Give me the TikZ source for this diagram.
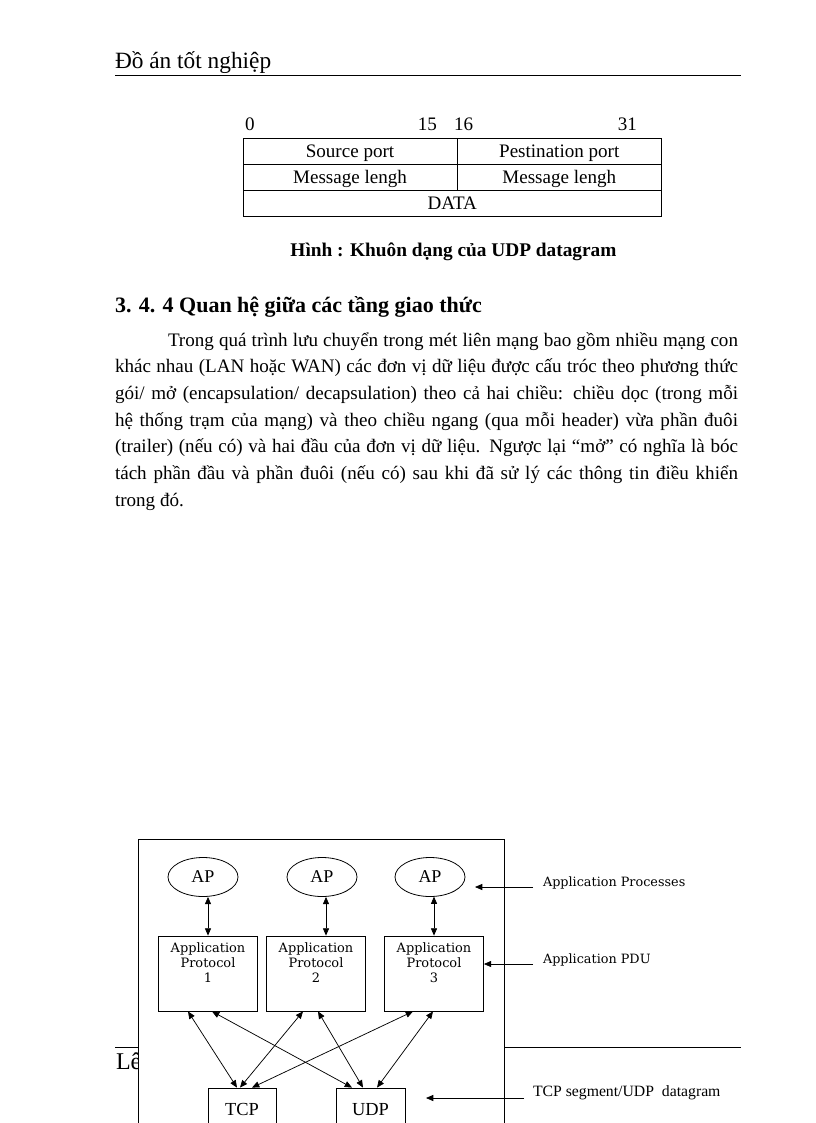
\documentclass[tikz,border=0pt]{standalone}
\usepackage{fontspec}
\setmainfont{Liberation Serif}
\newfontfamily\dvserif{DejaVu Serif}
\usetikzlibrary{arrows.meta,shapes.geometric,calc}
\begin{document}
\begin{tikzpicture}[x=0.75pt,y=-0.75pt,
  txt/.style={inner sep=0pt, outer sep=0pt},
  body/.style={txt, anchor=base west, font=\fontsize{14.3}{17}\selectfont},
  cell/.style={draw, line width=0.65pt, inner sep=0pt, outer sep=0pt, minimum height=19.5pt,
    text height=9.5pt, text depth=0pt, font=\fontsize{14.3}{17}\selectfont},
  frame/.style={draw, fill=white, line width=0.7pt, inner sep=0pt, minimum width=274.5pt, minimum height=218.25pt},
  apell/.style={ellipse, draw, line width=0.6pt, inner sep=0pt, minimum width=52.5pt, minimum height=29.25pt,
    font=\fontsize{13.5}{16}\selectfont},
  pbox/.style={draw, line width=0.6pt, inner sep=0pt, minimum width=74.25pt, minimum height=56.25pt},
  ptext/.style={txt, anchor=north, align=center, font=\dvserif\fontsize{9.7}{11.25}\selectfont},
  tbox/.style={draw, line width=0.6pt, inner sep=0pt, minimum height=31.5pt, text height=9pt, text depth=0pt,
    font=\fontsize{13.8}{16}\selectfont},
  lbl/.style={txt, anchor=base west, font=\dvserif\fontsize{9.6}{11.25}\selectfont},
  tlbl/.style={txt, anchor=base west, font=\fontsize{11.8}{14}\selectfont},
  tipa/.tip={Triangle[length=5.5pt,width=4.6pt]},
  dbl/.style={line width=0.55pt, tipa-tipa},
  larr/.style={line width=0.55pt, -tipa},
  rule/.style={line width=0.8pt}
]
\useasboundingbox (0,0) rectangle (816,1123);
\clip (0,0) rectangle (816,1123);

% header
\node[txt, anchor=base west, font=\fontsize{17.5}{21}\selectfont] (hdr) at (115,69) {Đồ án tốt nghiệp};
\coordinate (hl) at (115,75.5);
\coordinate (hr) at (741,75.5);
\draw[rule] (hl) -- (hr);

% UDP table
\node[body] (n0) at (245,130.7) {0};
\node[body, anchor=base east] (n15) at (437,130.7) {15};
\node[body] (n16) at (454,130.7) {16};
\node[body, anchor=base east] (n31) at (637,130.7) {31};
\node[cell, minimum width=160.5pt] (src) at (350,151.5) {Source port};
\node[cell, minimum width=153.4pt] (dst) at (559.25,151.5) {Pestination port};
\node[cell, minimum width=160.5pt] (ml1) at (350,177.5) {Message lengh};
\node[cell, minimum width=153.4pt] (ml2) at (559.25,177.5) {Message lengh};
\node[cell, minimum width=313.9pt] (data) at (452.25,203.5) {DATA};

\node[txt, anchor=base, font=\bfseries\fontsize{14.5}{17}\selectfont] (cap) at (453.5,256) {Hình : Khuôn dạng của UDP datagram};

\node[txt, anchor=base west, font=\bfseries\fontsize{16.5}{19}\selectfont] (sec) at (115,312) {3. 4. 4 Quan hệ giữa các tầng giao thức};

% paragraph
\node[body] (l1) at (168,346) {\makebox[427.5pt][s]{Trong quá trình lưu chuyển trong mét liên mạng bao gồm nhiều mạng con}};
\node[body] (l2) at (115,372.7) {\makebox[467.25pt][s]{khác nhau (LAN hoặc WAN) các đơn vị dữ liệu được cấu tróc theo phương thức}};
\node[body] (l3) at (115,399.3) {\makebox[467.25pt][s]{gói/ mở (encapsulation/ decapsulation) theo cả hai chiều: chiều dọc (trong mỗi}};
\node[body] (l4) at (115,426) {\makebox[467.25pt][s]{hệ thống trạm của mạng) và theo chiều ngang (qua mỗi header) vừa phần đuôi}};
\node[body] (l5) at (115,452.7) {\makebox[467.25pt][s]{(trailer) (nếu có) và hai đầu của đơn vị dữ liệu. Ngược lại “mở” có nghĩa là bóc}};
\node[body] (l6) at (115,479.3) {\makebox[467.25pt][s]{tách phần đầu và phần đuôi (nếu có) sau khi đã sử lý các thông tin điều khiển}};
\node[body] (l7) at (115,506) {trong đó.};

% footer (partly covered)
\node[txt, anchor=base west, font=\fontsize{18}{21}\selectfont] (ftr) at (116,1069) {Lê};
\coordinate (fl) at (115,1047);
\coordinate (fr) at (741,1047);
\draw[line width=0.7pt] (fl) -- (fr);

% diagram
\node[frame] (frame) at (321,984.5) {};

\node[apell] (ap1) at (203,877) {AP};
\node[apell] (ap2) at (322,877) {AP};
\node[apell] (ap3) at (430,877) {AP};

\node[pbox] (p1) at (208,973.5) {};
\node[pbox] (p2) at (316,973.5) {};
\node[pbox] (p3) at (434,973.5) {};
\node[ptext] (t1) at ($(p1.north)+(0,7.5)$) {Application\\Protocol\\1};
\node[ptext] (t2) at ($(p2.north)+(0,7.5)$) {Application\\Protocol\\2};
\node[ptext] (t3) at ($(p3.north)+(0,7.5)$) {Application\\Protocol\\3};

\draw[dbl] ($(ap1.south)+(5,0)$) -- (p1.north);
\draw[dbl] ($(ap2.south)+(4,0)$) -- ($(p2.north)+(10,0)$);
\draw[dbl] ($(ap3.south)+(4,-0.3)$) -- (p3.north);

\node[tbox, minimum width=51pt] (tcp) at (242,1109) {TCP};
\node[tbox, minimum width=51.75pt] (udp) at (370.5,1109) {UDP};

\draw[dbl] ($(p1.south)+(-20,0)$) -- ($(tcp.north)+(-5,0)$);
\draw[dbl] ($(p1.south)+(4,0)$) -- ($(udp.north)+(-18.5,0)$);
\draw[dbl] ($(p2.south)+(-13,0)$) -- ($(tcp.north)+(-2,0)$);
\draw[dbl] ($(p2.south)+(2,0)$) -- ($(udp.north)+(-7.5,0)$);
\draw[dbl] ($(p3.south)+(-21,0)$) -- ($(tcp.north)+(10,0)$);
\draw[dbl] ($(p3.south)+(-1,0)$) -- ($(udp.north)+(6.5,0)$);

% side labels
\node[lbl] (lapp) at (543,886.5) {Application Processes};
\node[lbl] (lpdu) at (543,963) {Application PDU};
\node[tlbl] (lseg) at (533,1096.5) {TCP segment/UDP\ \ datagram};
\coordinate (a1s) at (533,887);
\coordinate (a1e) at (475,887);
\draw[larr] (a1s) -- (a1e);
\coordinate (a2s) at (533,964);
\draw[larr] (a2s) -- (a2s -| p3.east);
\coordinate (a3s) at (524,1098);
\coordinate (a3e) at (426,1098);
\draw[larr] (a3s) -- (a3e);
\end{tikzpicture}
\end{document}
